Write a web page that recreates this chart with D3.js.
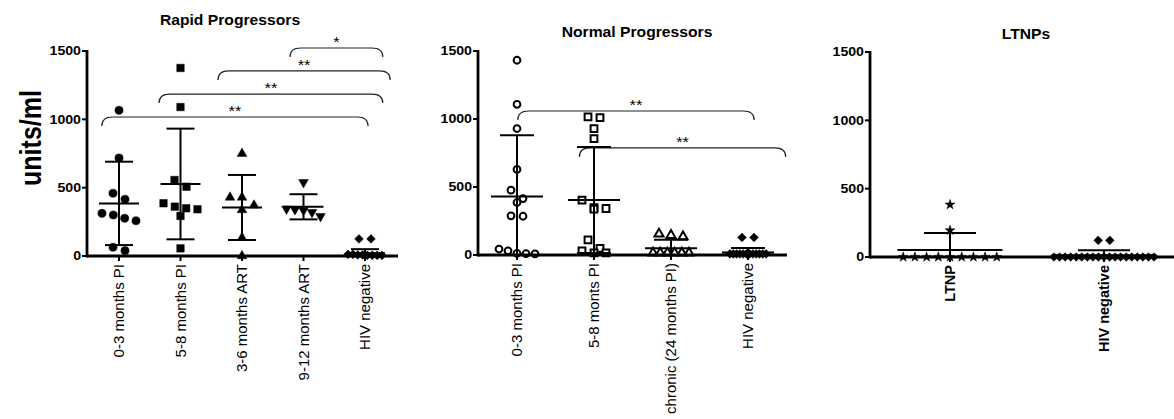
<!DOCTYPE html>
<html>
<head>
<meta charset="utf-8">
<script src="https://cdnjs.cloudflare.com/ajax/libs/d3/7.8.5/d3.min.js"></script>
<style>
  body { margin: 0; background: #fff; }
  text { font-family: "Liberation Sans", Arial, sans-serif; fill: #000; }
</style>
</head>
<body>
<div id="chart"></div>
<script>
//Width and height
var w = 1174;
var h = 419;

//Rapid progressors data
var rapidGroups = ["0-3 months PI", "5-8 months PI", "3-6 months ART", "9-12 months ART", "HIV negative"];
var rapidValues = [
    [1066, 717, 459, 415, 312, 300, 276, 258, 64, 39],
    [1376, 1090, 556, 507, 386, 361, 349, 342, 293, 56],
    [749, 429, 429, 371, 337, 134, 0],
    [539, 345, 340, 335, 320, 290],
    [125, 125, 12, 8, 5, 5, 5, 5, 8, 12]
];
var rapidMeans = [385, 527, 355, 360, 20];
var rapidSDs = [305, 405, 238, 92, 30];
//brackets: start/end in category index units, level in units/ml
var rapidBracketFrom = [2.78, 1.61, 0.65, -0.28];
var rapidBracketTo = [4.29, 4.41, 4.29, 4.05];
var rapidBracketLevel = [1522, 1354, 1185, 1017];
var rapidBracketLabel = ["*", "**", "**", "**"];

//Normal progressors data
var normalGroups = ["0-3 months PI", "5-8 monts PI", "chronic (24 months PI)", "HIV negative"];
var normalValues = [
    [1432, 1108, 930, 629, 477, 415, 386, 288, 285, 44, 31, 12, 10, 8],
    [1015, 1010, 930, 856, 404, 349, 342, 337, 112, 49, 31, 15, 15],
    [155, 145, 135, 15, 15, 15, 15, 15, 15],
    [129, 129, 8, 8, 8, 8, 8, 8, 8, 8, 8, 8, 8, 8]
];
var normalMeans = [430, 405, 50, 18];
var normalSDs = [450, 390, 62, 33];
var normalBracketFrom = [0.01, 0.81];
var normalBracketTo = [3.08, 3.49];
var normalBracketLevel = [1059, 787];
var normalBracketLabel = ["**", "**"];

//LTNP data
var ltnpGroups = ["LTNP", "HIV negative"];
var ltnpValues = [
    [383, 195, 0, 0, 0, 0, 0, 0, 0, 0, 0],
    [122, 122, 0, 0, 0, 0, 0, 0, 0, 0, 0, 0, 0, 0, 0, 0, 0, 0, 0, 0, 0]
];
var ltnpMeans = [52, 12];
var ltnpSDs = [123, 38];

var yTicks = [0, 500, 1000, 1500];

//Create SVG element
var svg = d3.select("#chart")
    .append("svg")
    .attr("width", w)
    .attr("height", h);

//Marker shapes
var shapes = {
    circle: { type: d3.symbolCircle, size: 52, rot: 0 },
    square: { type: d3.symbolSquare, size: 56, rot: 0 },
    triangle: { type: d3.symbolTriangle, size: 40, rot: 0 },
    triangleDown: { type: d3.symbolTriangle, size: 40, rot: 180 },
    diamond: { type: d3.symbolSquare, size: 38, rot: 45 },
    star: { type: d3.symbolStar, size: 30, rot: 0 },
    ocircle: { type: d3.symbolCircle, size: 36, rot: 0 },
    osquare: { type: d3.symbolSquare, size: 46, rot: 0 },
    otriangle: { type: d3.symbolTriangle, size: 36, rot: 0 }
};

//Arrange points of a column in centred rows (scatter dot plot)
function rowOffsets(vals, y, gap, maxW) {
    var idx = vals.map(function (v, i) { return i; })
        .sort(function (a, b) { return vals[b] - vals[a]; });
    var offs = [];
    var i = 0;
    while (i < idx.length) {
        var y0 = y(vals[idx[i]]);
        var row = [idx[i]];
        var j = i + 1;
        while (j < idx.length && y(vals[idx[j]]) - y0 < 9) {
            row.push(idx[j]);
            j++;
        }
        var s = row.length > 1 ? Math.min(gap, maxW / (row.length - 1)) : 0;
        row.forEach(function (k, n) {
            offs[k] = (n - (row.length - 1) / 2) * s;
        });
        i = j;
    }
    return offs;
}

function bracketPath(xa, xb, yt) {
    var r = 11, drop = 9;
    return "M" + xa + "," + (yt + drop) + " Q" + xa + "," + yt + " " + (xa + r) + "," + yt +
        " L" + (xb - r) + "," + yt + " Q" + xb + "," + yt + " " + xb + "," + (yt + drop);
}

function drawPanel(cfg, groups, values, means, sds, markers, br) {
    var g = svg.append("g");

    var x = d3.scalePoint()
        .domain(groups)
        .range([cfg.c0, cfg.c1]);
    var xi = d3.scaleLinear()
        .domain([0, groups.length - 1])
        .range([cfg.c0, cfg.c1]);
    var y = d3.scaleLinear()
        .domain([0, 1500])
        .range([cfg.y0, cfg.y1]);

    //Title
    g.append("text")
        .attr("transform", "translate(" + cfg.tx + "," + cfg.ty + ") scale(1.12,1)")
        .attr("text-anchor", "middle")
        .style("font-size", "14px")
        .style("font-weight", "bold")
        .text(cfg.title);

    //Significance brackets
    if (br) {
        br.from.forEach(function (f, i) {
            var xa = xi(f), xb = xi(br.to[i]), yt = y(br.level[i]);
            g.append("path")
                .attr("d", bracketPath(xa, xb, yt))
                .attr("fill", "none")
                .attr("stroke", "#222")
                .attr("stroke-width", 1.2);
            g.append("text")
                .attr("transform", "translate(" + ((xa + xb) / 2) + "," + (yt - 1) + ") scale(1.1,1)")
                .attr("text-anchor", "middle")
                .style("font-size", "15px")
                .text(br.label[i]);
        });
    }

    //Points
    values.forEach(function (vals, gi) {
        var m = shapes[markers[gi]];
        var open = markers[gi].charAt(0) == "o";
        var offs = rowOffsets(vals, y, cfg.gap, cfg.maxW);
        g.selectAll(null)
            .data(vals)
            .enter()
            .append("path")
            .attr("d", d3.symbol().type(m.type).size(m.size))
            .attr("transform", function (d, i) {
                return "translate(" + (x(groups[gi]) + offs[i]) + "," + y(d) + ") rotate(" + m.rot + ")";
            })
            .attr("fill", open ? "#fff" : "#000")
            .attr("stroke", "#000")
            .attr("stroke-width", open ? 2 : 0.5);
    });

    //Mean and SD
    groups.forEach(function (grp, gi) {
        var cx = x(grp);
        var top = means[gi] + sds[gi];
        var bot = Math.max(0, means[gi] - sds[gi]);
        g.append("line")
            .attr("x1", cx).attr("x2", cx)
            .attr("y1", y(top)).attr("y2", y(bot))
            .attr("stroke", "#000").attr("stroke-width", 2);
        g.append("line")
            .attr("x1", cx - cfg.capW / 2).attr("x2", cx + cfg.capW / 2)
            .attr("y1", y(top)).attr("y2", y(top))
            .attr("stroke", "#000").attr("stroke-width", 2);
        if (bot > 0) {
            g.append("line")
                .attr("x1", cx - cfg.capW / 2).attr("x2", cx + cfg.capW / 2)
                .attr("y1", y(bot)).attr("y2", y(bot))
                .attr("stroke", "#000").attr("stroke-width", 2);
        }
        g.append("line")
            .attr("x1", cx - cfg.meanW / 2).attr("x2", cx + cfg.meanW / 2)
            .attr("y1", y(means[gi])).attr("y2", y(means[gi]))
            .attr("stroke", "#000").attr("stroke-width", 2);
    });

    //Y axis
    g.append("line")
        .attr("x1", cfg.x0).attr("x2", cfg.x0)
        .attr("y1", y(1500) - 1).attr("y2", cfg.y0 + 1.5)
        .attr("stroke", "#000").attr("stroke-width", 2.8);
    g.selectAll(null)
        .data(yTicks)
        .enter()
        .append("line")
        .attr("x1", cfg.x0 - 5).attr("x2", cfg.x0)
        .attr("y1", function (d) { return y(d); })
        .attr("y2", function (d) { return y(d); })
        .attr("stroke", "#000").attr("stroke-width", 2);
    g.selectAll(null)
        .data(yTicks)
        .enter()
        .append("text")
        .attr("transform", function (d) {
            return "translate(" + (cfg.x0 - 6) + "," + (y(d) + 4.2) + ") scale(1.18,1)";
        })
        .attr("text-anchor", "end")
        .style("font-size", "12px")
        .style("font-weight", "bold")
        .text(function (d) { return d; });

    //X axis
    g.append("line")
        .attr("x1", cfg.x0).attr("x2", cfg.x1)
        .attr("y1", cfg.y0).attr("y2", cfg.y0)
        .attr("stroke", "#000").attr("stroke-width", 2.8);
    g.selectAll(null)
        .data(groups)
        .enter()
        .append("line")
        .attr("x1", function (d) { return x(d); })
        .attr("x2", function (d) { return x(d); })
        .attr("y1", cfg.y0).attr("y2", cfg.y0 + 5)
        .attr("stroke", "#000").attr("stroke-width", 2);
    g.selectAll(null)
        .data(groups)
        .enter()
        .append("text")
        .attr("transform", function (d) {
            return "translate(" + x(d) + "," + (cfg.y0 + 8) + ") rotate(-90)";
        })
        .attr("text-anchor", "end")
        .attr("dy", "0.36em")
        .style("font-size", cfg.labelSize)
        .style("font-weight", cfg.labelWeight)
        .text(function (d) { return d; });
}

//Rapid Progressors
drawPanel({
    title: "Rapid Progressors", tx: 230, ty: 25,
    x0: 87, x1: 398, c0: 119, c1: 365, y0: 256, y1: 51,
    gap: 12, maxW: 34, meanW: 40, capW: 28,
    labelSize: "15px", labelWeight: "normal"
}, rapidGroups, rapidValues, rapidMeans, rapidSDs,
    ["circle", "square", "triangle", "triangleDown", "diamond"],
    { from: rapidBracketFrom, to: rapidBracketTo, level: rapidBracketLevel, label: rapidBracketLabel });

//Normal Progressors
drawPanel({
    title: "Normal Progressors", tx: 637, ty: 37,
    x0: 478, x1: 787, c0: 517, c1: 748, y0: 255, y1: 51,
    gap: 12, maxW: 36, meanW: 52, capW: 34,
    labelSize: "15px", labelWeight: "normal"
}, normalGroups, normalValues, normalMeans, normalSDs,
    ["ocircle", "osquare", "otriangle", "diamond"],
    { from: normalBracketFrom, to: normalBracketTo, level: normalBracketLevel, label: normalBracketLabel });

//LTNPs
drawPanel({
    title: "LTNPs", tx: 1026, ty: 39,
    x0: 870, x1: 1174, c0: 950, c1: 1104, y0: 257, y1: 52,
    gap: 11.7, maxW: 100, meanW: 105, capW: 52,
    labelSize: "14.5px", labelWeight: "bold"
}, ltnpGroups, ltnpValues, ltnpMeans, ltnpSDs,
    ["star", "diamond"], null);

//Y axis title
svg.append("text")
    .attr("transform", "translate(41,138) scale(1.2,1) rotate(-90)")
    .attr("text-anchor", "middle")
    .style("font-size", "25px")
    .style("font-weight", "bold")
    .text("units/ml");
</script>
</body>
</html>
